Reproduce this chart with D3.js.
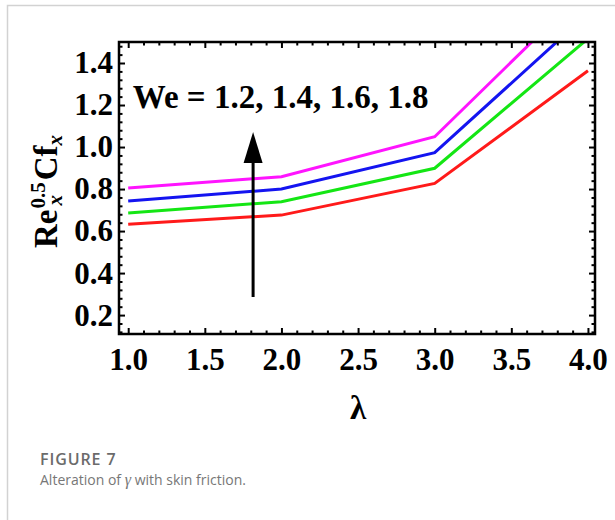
<!DOCTYPE html>
<html>
<head>
<meta charset="utf-8">
<script src="https://cdn.jsdelivr.net/npm/d3@7"></script>
<style>
  body { margin: 0; background: #fff; }
  svg { display: block; }
</style>
</head>
<body>
<svg id="chart" width="615" height="520"></svg>
<script>
// Skin friction Re_x^0.5 Cf_x against lambda for four Weissenberg numbers
const lambdaValues = [1, 2, 3, 4];
const weValues = ["1.2", "1.4", "1.6", "1.8"];
const cfWe12 = [0.633, 0.676, 0.827, 1.363];
const cfWe14 = [0.686, 0.740, 0.899, 1.516];
const cfWe16 = [0.743, 0.800, 0.973, 1.635];
const cfWe18 = [0.805, 0.859, 1.049, 1.761];
const seriesColors = ["#ff1a1a", "#14e614", "#1414f0", "#ff14ff"];
const xTickValues = [1.0, 1.5, 2.0, 2.5, 3.0, 3.5, 4.0];
const yTickValues = [0.2, 0.4, 0.6, 0.8, 1.0, 1.2, 1.4];

const svg = d3.select("#chart");
const serif = "'Liberation Serif', 'Times New Roman', serif";
const frame = { left: 119, right: 595, top: 42, bottom: 334 };

const x = d3.scaleLinear().domain([0.94, 4.046]).range([frame.left, frame.right]);
const y = d3.scaleLinear().domain([0.11, 1.5]).range([frame.bottom, frame.top]);

// card border
svg.append("path")
  .attr("d", "M7.5,520 L7.5,5.5 L615,5.5")
  .attr("fill", "none")
  .attr("stroke", "#d2d2d2")
  .attr("stroke-width", 1.5);

// clip for the curves
svg.append("defs").append("clipPath").attr("id", "plotClip")
  .append("rect")
  .attr("x", frame.left).attr("y", frame.top)
  .attr("width", frame.right - frame.left).attr("height", frame.bottom - frame.top);

const series = [cfWe12, cfWe14, cfWe16, cfWe18];
const line = d3.line().x((d, i) => x(lambdaValues[i])).y(d => y(d));

svg.append("g").attr("clip-path", "url(#plotClip)")
  .selectAll("path").data(series).join("path")
  .attr("d", d => line(d))
  .attr("fill", "none")
  .attr("stroke", (d, i) => seriesColors[i])
  .attr("stroke-width", 3)
  .attr("stroke-linejoin", "miter");

// frame ticks on all four sides (inward)
const xMinor = d3.range(0.9999, 4.01, 0.1).filter(v => Math.abs(v * 2 - Math.round(v * 2)) > 0.01);
const yMinor = d3.range(0.12, 1.49, 0.04).filter(v => Math.abs(v * 5 - Math.round(v * 5)) > 0.01);

function tickGroup(axisFn, scale, pos, values, size) {
  const g = svg.append("g")
    .attr("transform", pos)
    .call(axisFn(scale).tickValues(values).tickSize(-size).tickFormat(""));
  g.select(".domain").remove();
  g.selectAll("line").attr("stroke", "#000").attr("stroke-width", 2);
  return g;
}
tickGroup(d3.axisBottom, x, `translate(0,${frame.bottom})`, xTickValues, 6);
tickGroup(d3.axisBottom, x, `translate(0,${frame.bottom})`, xMinor, 3.5);
tickGroup(d3.axisTop, x, `translate(0,${frame.top})`, xTickValues, 6);
tickGroup(d3.axisTop, x, `translate(0,${frame.top})`, xMinor, 3.5);
tickGroup(d3.axisLeft, y, `translate(${frame.left},0)`, yTickValues, 6);
tickGroup(d3.axisLeft, y, `translate(${frame.left},0)`, yMinor, 3.5);
tickGroup(d3.axisRight, y, `translate(${frame.right},0)`, yTickValues, 6);
tickGroup(d3.axisRight, y, `translate(${frame.right},0)`, yMinor, 3.5);

// tick labels
const xLab = svg.append("g")
  .attr("transform", `translate(0,${frame.bottom})`)
  .call(d3.axisBottom(x).tickValues(xTickValues).tickSize(0).tickPadding(14).tickFormat(d3.format(".1f")));
xLab.select(".domain").remove();
xLab.selectAll("text").attr("font-family", serif).attr("font-size", 31).attr("font-weight", "bold").attr("fill", "#000");

const yLab = svg.append("g")
  .attr("transform", `translate(${frame.left},0)`)
  .call(d3.axisLeft(y).tickValues(yTickValues).tickSize(0).tickPadding(6).tickFormat(d3.format(".1f")));
yLab.select(".domain").remove();
yLab.selectAll("text").attr("font-family", serif).attr("font-size", 31).attr("font-weight", "bold").attr("fill", "#000");

// frame
svg.append("rect")
  .attr("x", frame.left).attr("y", frame.top)
  .attr("width", frame.right - frame.left).attr("height", frame.bottom - frame.top)
  .attr("fill", "none").attr("stroke", "#000").attr("stroke-width", 2.5);

// annotation arrow and label
const arrowX = 1.815, arrowFrom = 0.286, arrowTo = 1.071;
svg.append("line")
  .attr("x1", x(arrowX)).attr("x2", x(arrowX))
  .attr("y1", y(arrowFrom)).attr("y2", y(arrowTo) + 25)
  .attr("stroke", "#000").attr("stroke-width", 3);
svg.append("path")
  .attr("d", `M${x(arrowX)},${y(arrowTo)} L${x(arrowX) + 9.5},${y(arrowTo) + 31} L${x(arrowX) - 9.5},${y(arrowTo) + 31} Z`)
  .attr("fill", "#000");

svg.append("text")
  .attr("x", x(1.03)).attr("y", y(1.186))
  .attr("font-family", serif).attr("font-size", 33).attr("font-weight", "bold")
  .text("We = " + weValues.join(", "));

// axis titles
svg.append("text")
  .attr("x", x(2.5)).attr("y", 419)
  .attr("text-anchor", "middle")
  .attr("font-family", serif).attr("font-size", 33).attr("font-weight", "bold")
  .text("λ");

const yt = svg.append("g").attr("transform", "translate(57,248) rotate(-90)");
const reT = yt.append("text").attr("x", 0).attr("y", 0)
  .attr("font-family", serif).attr("font-size", 33).attr("font-weight", "bold").text("Re");
const reW = reT.node().getComputedTextLength();
const supT = yt.append("text").attr("x", reW + 1).attr("y", -12)
  .attr("font-family", serif).attr("font-size", 21).attr("font-weight", "bold").text("0.5");
yt.append("text").attr("x", reW + 4).attr("y", 5)
  .attr("font-family", serif).attr("font-size", 21).attr("font-weight", "bold").attr("font-style", "italic").text("x");
const supW = supT.node().getComputedTextLength();
const cfT = yt.append("text").attr("x", reW + supW + 3).attr("y", 0)
  .attr("font-family", serif).attr("font-size", 33).attr("font-weight", "bold").text("Cf");
const cfW = cfT.node().getComputedTextLength();
yt.append("text").attr("x", reW + supW + 3 + cfW).attr("y", 5)
  .attr("font-family", serif).attr("font-size", 21).attr("font-weight", "bold").attr("font-style", "italic").text("x");

// caption
svg.append("text")
  .attr("x", 40).attr("y", 465)
  .attr("font-family", "'Open Sans', sans-serif").attr("font-size", 16).attr("font-weight", 600)
  .attr("letter-spacing", 0.9)
  .attr("fill", "#6b6b6b")
  .text("FIGURE 7");
const cap = svg.append("text")
  .attr("x", 40).attr("y", 485)
  .attr("font-family", "'Open Sans', sans-serif").attr("font-size", 14).attr("font-weight", 400)
  .attr("fill", "#777");
cap.append("tspan").text("Alteration of ");
cap.append("tspan").attr("font-family", serif).attr("font-style", "italic").attr("font-weight", 400).attr("font-size", 16).text("γ");
cap.append("tspan").text(" with skin friction.");
</script>
</body>
</html>
